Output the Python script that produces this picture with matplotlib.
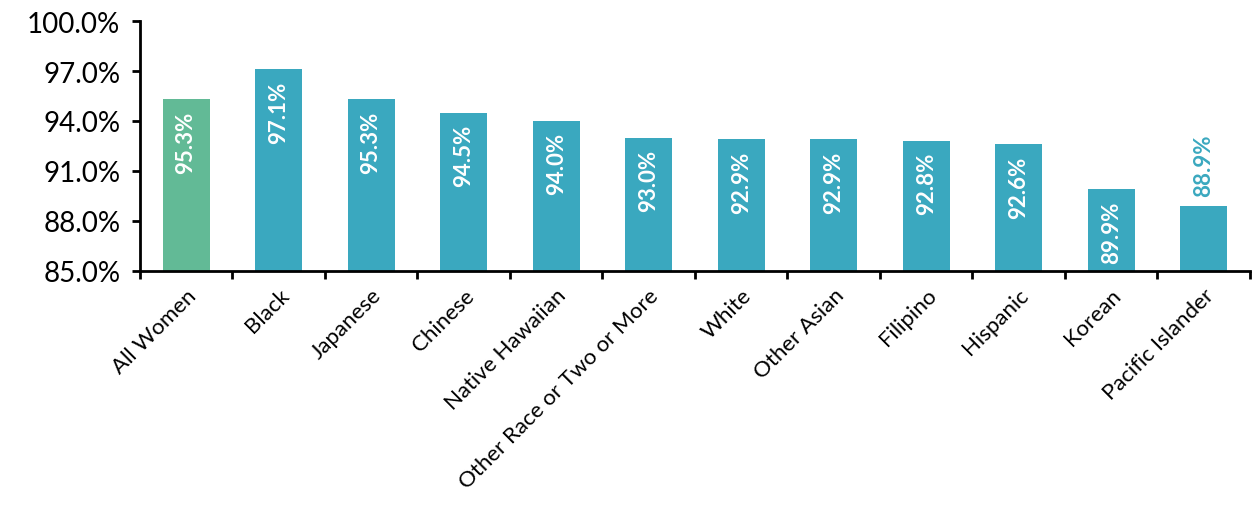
import numpy as np
import matplotlib.pyplot as plt
from matplotlib.ticker import FuncFormatter

categories = ["All Women", "Black", "Japanese", "Chinese", "Native Hawaiian",
              "Other Race or Two or More", "White", "Other Asian", "Filipino",
              "Hispanic", "Korean", "Pacific Islander"]
values = [95.3, 97.1, 95.3, 94.5, 94.0, 93.0, 92.9, 92.9, 92.8, 92.6, 89.9, 88.9]
labels = ["95.3%", "97.1%", "95.3%", "94.5%", "94.0%", "93.0%", "92.9%",
          "92.9%", "92.8%", "92.6%", "89.9%", "88.9%"]

green = "#62BA96"
teal = "#3AA8BF"

plt.rcParams['font.family'] = ['Lato', 'DejaVu Sans']

fig = plt.figure(figsize=(12.6, 5.06), dpi=100)
ax = fig.add_axes([0.111, 0.4625, 0.881, 0.494])

x = np.arange(len(categories))
colors = [green] + [teal] * (len(categories) - 1)
ax.bar(x, values, width=0.51, color=colors)

for i, (v, lab) in enumerate(zip(values, labels)):
    if i == len(values) - 1:
        ax.annotate(lab, (i, v), xytext=(0, 7), textcoords="offset points",
                    rotation=90, ha="center", va="bottom", color=teal,
                    fontsize=16, fontweight="bold")
    else:
        ax.annotate(lab, (i, v), xytext=(0, -8), textcoords="offset points",
                    rotation=90, ha="center", va="top", color="white",
                    fontsize=16, fontweight="bold")

ax.set_ylim(85, 100)
ax.set_yticks(np.arange(85, 100.1, 3))
ax.yaxis.set_major_formatter(FuncFormatter(lambda v, p: f"{v:.1f}%"))
ax.set_xlim(-0.5, len(categories) - 0.5)

ax.set_xticks(np.arange(-0.5, len(categories), 1))
ax.set_xticklabels([])
ax.set_xticks(x, minor=True)
ax.set_xticklabels(categories, minor=True, rotation=45, ha="right",
                   rotation_mode="anchor", fontsize=16)
ax.tick_params(axis="x", which="minor", length=0, pad=10)
ax.tick_params(axis="x", which="major", length=6, width=2)
ax.tick_params(axis="y", length=6, width=2, labelsize=20, pad=8)

for s in ["top", "right"]:
    ax.spines[s].set_visible(False)
for s in ["left", "bottom"]:
    ax.spines[s].set_linewidth(2)

fig.savefig("out.png", dpi=100)
